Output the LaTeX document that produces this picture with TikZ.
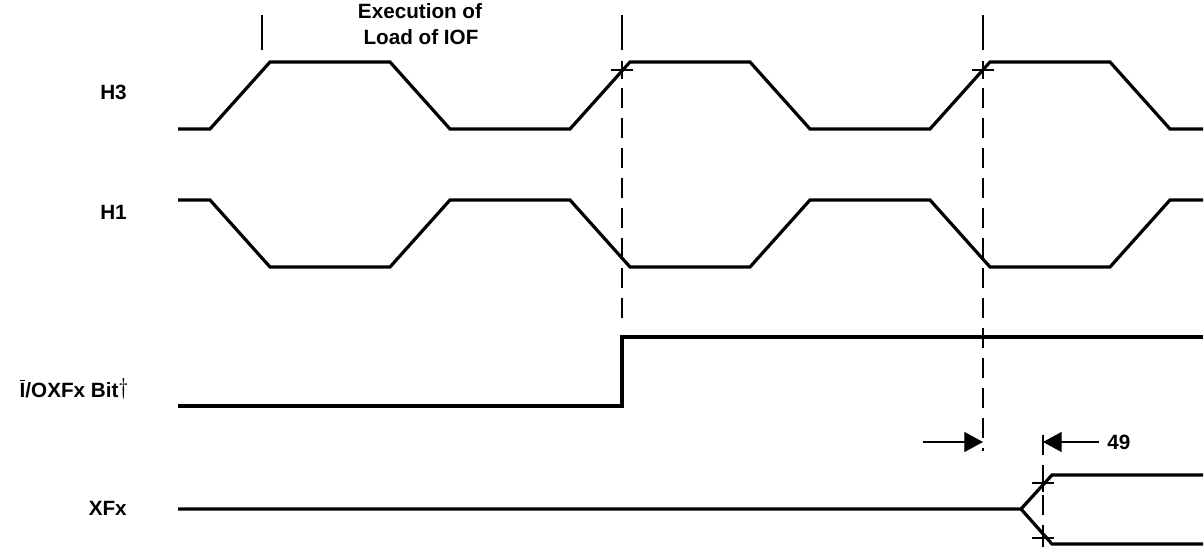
\documentclass[tikz,border=0pt]{standalone}
\usepackage{fontspec}
\setsansfont{Liberation Sans}
\usepackage{amssymb}
\usepackage{amsmath}
\usepackage{tikz}
\usetikzlibrary{calc}
\usetikzlibrary{positioning}
\usetikzlibrary{arrows.meta}
\tikzset{
  text_node/.style = {inner sep=0pt, font=\fontsize{15.5}{18}\selectfont\sffamily\bfseries},
  label_node/.style = {text_node, anchor=base east},
  sig_line/.style = {line width=2.4pt},
  guide_line/.style = {line width=0.9pt},
  dash_line/.style = {guide_line, dash pattern=on 15pt off 7.5pt},
  tick_mark/.style = {line width=0.8pt},
  dim_arrow/.style = {line width=0.9pt, -{Triangle[length=14pt,width=15pt]}}
}
\begin{document}
\begin{tikzpicture}[x=0.75pt, y=-0.75pt]
  \useasboundingbox (0,0) rectangle (1204,548);
  % signal names
  \node[label_node] (h3_label) at (127,100) {H3};
  \node[label_node] (h1_label) at (127,220) {H1};
  \node[label_node] (iof_label) at (129,398) {$\overline{\mbox{I}}$/OXFx Bit\raisebox{2.5pt}{\fontsize{19}{19}\selectfont\mdseries$\dagger$}};
  \node[label_node] (xf_label) at (127,516) {XFx};
  \node[text_node, anchor=base] (exec_top) at (420,19) {Execution of};
  \node[text_node, anchor=base] (exec_bot) at (421,45) {Load of IOF};
  % waveforms
  \draw[sig_line] (178,129) -- (210,129) -- (270,62) -- (390,62) -- (450,129) -- (570,129)
    -- (630,62) -- (750,62) -- (810,129) -- (930,129) -- (990,62) -- (1110,62) -- (1170,129) -- (1203,129);
  \draw[sig_line] (178,200) -- (210,200) -- (270,267) -- (390,267) -- (450,200) -- (570,200)
    -- (630,267) -- (750,267) -- (810,200) -- (930,200) -- (990,267) -- (1110,267) -- (1170,200) -- (1203,200);
  \draw[sig_line] (178,406) -- (622,406) -- (622,337) -- (1203,337);
  \draw[sig_line] (178,509) -- (1021,509) -- (1052,475) -- (1203,475);
  \draw[sig_line] (1021,509) -- (1052,544) -- (1203,544);
  % reference lines
  \draw[guide_line] (262,15) -- (262,50);
  \draw[guide_line] (622,15) -- (622,50);
  \draw[dash_line] (622,88) -- (622,326);
  \draw[guide_line] (983,15) -- (983,50);
  \draw[dash_line] (983,88) -- (983,451);
  \draw[dash_line] (1043,435) -- (1043,548);
  \foreach \cx/\cy in {622/70, 983/70, 1043/483, 1043/538}
    \draw[tick_mark] (\cx-11,\cy) -- (\cx+11,\cy) (\cx,\cy-9) -- (\cx,\cy+9);
  % delay 49
  \coordinate (dly_left_tail) at (923,442);
  \coordinate (dly_left_tip) at (983,442);
  \coordinate (dly_right_tail) at (1099,442);
  \coordinate (dly_right_tip) at (1043,442);
  \draw[dim_arrow] (dly_left_tail) -- (dly_left_tip);
  \draw[dim_arrow] (dly_right_tail) -- (dly_right_tip);
  \node[text_node, anchor=base west] (dly_label) at (1107,450) {49};
\end{tikzpicture}
\end{document}
